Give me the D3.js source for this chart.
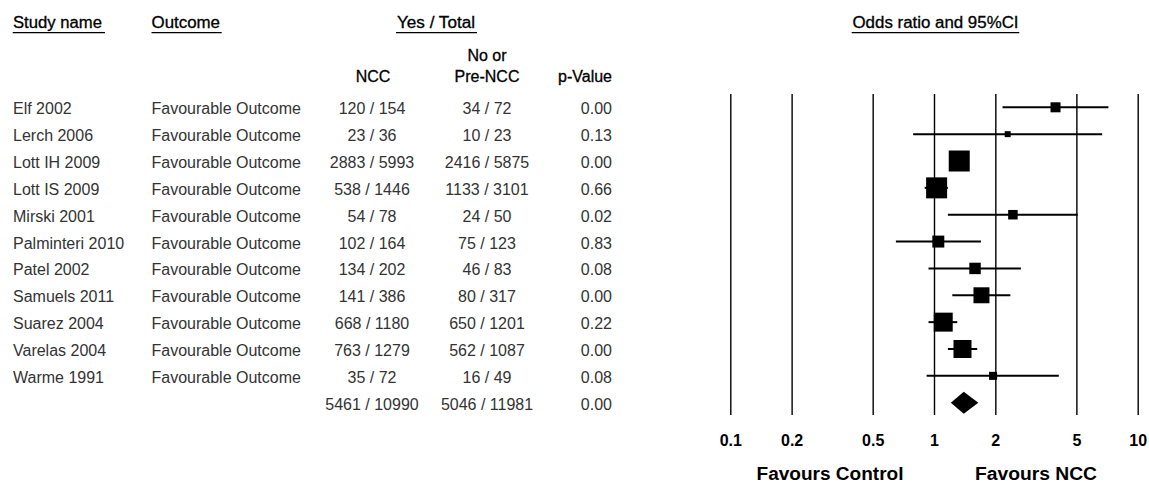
<!DOCTYPE html>
<html>
<head>
<meta charset="utf-8">
<script src="https://cdn.jsdelivr.net/npm/d3@7"></script>
<style>
  html, body { margin: 0; padding: 0; background: #fff; }
  svg { display: block; font-family: "Liberation Sans", Arial, sans-serif; }
</style>
</head>
<body>
<svg id="chart" width="1149" height="484"></svg>
<script>
// ---------- data ----------
const studies = ["Elf 2002", "Lerch 2006", "Lott IH 2009", "Lott IS 2009", "Mirski 2001",
  "Palminteri 2010", "Patel 2002", "Samuels 2011", "Suarez 2004", "Varelas 2004", "Warme 1991"];
const outcomes = ["Favourable Outcome", "Favourable Outcome", "Favourable Outcome", "Favourable Outcome",
  "Favourable Outcome", "Favourable Outcome", "Favourable Outcome", "Favourable Outcome",
  "Favourable Outcome", "Favourable Outcome", "Favourable Outcome"];
const nccYes = [120, 23, 2883, 538, 54, 102, 134, 141, 668, 763, 35];
const nccTotal = [154, 36, 5993, 1446, 78, 164, 202, 386, 1180, 1279, 72];
const ctrlYes = [34, 10, 2416, 1133, 24, 75, 46, 80, 650, 562, 16];
const ctrlTotal = [72, 23, 5875, 3101, 50, 123, 83, 317, 1201, 1087, 49];
const pValues = ["0.00", "0.13", "0.00", "0.66", "0.02", "0.83", "0.08", "0.00", "0.22", "0.00", "0.08"];
const oddsRatio = [3.95, 2.30, 1.33, 1.03, 2.44, 1.05, 1.59, 1.71, 1.11, 1.38, 1.95];
const lowerCI = [2.17, 0.79, 1.24, 0.90, 1.17, 0.65, 0.94, 1.23, 0.94, 1.17, 0.92];
const upperCI = [7.18, 6.69, 1.43, 1.17, 5.08, 1.70, 2.67, 2.37, 1.30, 1.63, 4.10];
const weights = [4.2, 1.5, 18.5, 18.5, 3.8, 6.0, 5.5, 10.7, 15.1, 13.6, 2.7];

const summaryNcc = "5461 / 10990";
const summaryCtrl = "5046 / 11981";
const summaryP = "0.00";
const summaryOR = 1.40, summaryLower = 1.21, summaryUpper = 1.65;

const tickValues = [0.1, 0.2, 0.5, 1, 2, 5, 10];
const tickLabels = ["0.1", "0.2", "0.5", "1", "2", "5", "10"];

// ---------- layout ----------
const svg = d3.select("#chart");
const nRows = studies.length + 1;
const plotTop = 94, plotBottom = 415;

const x = d3.scaleLog().domain([0.1, 10]).range([730.3, 1137.7]);
const y = d3.scaleLinear().domain([0, nRows - 1]).range([107.3, 402.7]);
const side = d3.scaleSqrt().domain([0, d3.max(weights)]).range([0, 21]);

const textOff = 7;
const rowColor = "#333";

// ---------- headers ----------
const hdr = svg.append("g").attr("font-size", 16).attr("fill", "#000")
  .attr("stroke", "#000").attr("stroke-width", 0.3);
function header(txt, xx, yy, anchor, len) {
  const t = hdr.append("text").attr("x", xx).attr("y", yy).attr("text-anchor", anchor).text(txt);
  if (len) t.attr("textLength", len).attr("lengthAdjust", "spacingAndGlyphs");
  return t;
}
header("Study name", 13, 28, "start", 89);
header("Outcome", 151.5, 28, "start", 68.5);
header("Yes / Total", 397, 28, "start", 78);
header("Odds ratio and 95%CI", 852.5, 28, "start", 166);
header("No or", 487, 61, "middle");
header("NCC", 373, 82, "middle");
header("Pre-NCC", 487, 82, "middle");
header("p-Value", 612, 82, "end");

const ul = svg.append("g").attr("stroke", "#000").attr("stroke-width", 1.2);
[[12.7, 105], [151.5, 221.7], [396, 477], [851.7, 1019.3]].forEach(([a, b]) => {
  ul.append("line").attr("x1", a).attr("x2", b).attr("y1", 32.6).attr("y2", 32.6);
});

// ---------- table rows ----------
const rows = studies.map((s, i) => ({
  name: s, outcome: outcomes[i],
  ncc: nccYes[i] + " / " + nccTotal[i],
  ctrl: ctrlYes[i] + " / " + ctrlTotal[i],
  p: pValues[i], i
}));
rows.push({ name: "", outcome: "", ncc: summaryNcc, ctrl: summaryCtrl, p: summaryP, i: studies.length });

const tbl = svg.append("g").attr("font-size", 16).attr("fill", rowColor);
const rg = tbl.selectAll("g.row").data(rows).join("g").attr("class", "row")
  .attr("transform", d => `translate(0,${y(d.i) + textOff})`);
rg.append("text").attr("x", 13).text(d => d.name);
rg.append("text").attr("x", 151.5).text(d => d.outcome);
rg.append("text").attr("x", 372).attr("text-anchor", "middle").text(d => d.ncc);
rg.append("text").attr("x", 487).attr("text-anchor", "middle").text(d => d.ctrl);
rg.append("text").attr("x", 612).attr("text-anchor", "end").text(d => d.p);

// ---------- axis / gridlines ----------
const axis = d3.axisBottom(x)
  .tickValues(tickValues)
  .tickFormat((d, i) => tickLabels[i])
  .tickSize(-(plotBottom - plotTop))
  .tickPadding(20);
const ag = svg.append("g").attr("transform", `translate(0,${plotBottom})`).call(axis);
ag.select(".domain").remove();
ag.selectAll(".tick line").attr("stroke", "#000").attr("stroke-width", 1.4);
ag.selectAll(".tick text")
  .attr("font-family", "\"Liberation Sans\", Arial, sans-serif")
  .attr("font-size", 16).attr("font-weight", "bold").attr("fill", "#000");

// ---------- CI lines and squares ----------
const data = studies.map((s, i) => ({ i, or: oddsRatio[i], lo: lowerCI[i], hi: upperCI[i], w: weights[i] }));
const pg = svg.append("g");
pg.selectAll("line.ci").data(data).join("line").attr("class", "ci")
  .attr("x1", d => x(d.lo)).attr("x2", d => x(d.hi))
  .attr("y1", d => y(d.i)).attr("y2", d => y(d.i))
  .attr("stroke", "#000").attr("stroke-width", 2);
pg.selectAll("rect.box").data(data).join("rect").attr("class", "box")
  .attr("x", d => x(d.or) - side(d.w) / 2)
  .attr("y", d => y(d.i) - side(d.w) / 2)
  .attr("width", d => side(d.w)).attr("height", d => side(d.w))
  .attr("fill", "#000");

// summary diamond
const sy = y(studies.length), dh = 11;
pg.append("path")
  .attr("d", `M${x(summaryLower)},${sy} L${x(summaryOR)},${sy - dh} L${x(summaryUpper)},${sy} L${x(summaryOR)},${sy + dh} Z`)
  .attr("fill", "#000");

// ---------- favours labels ----------
const fav = svg.append("g").attr("font-size", 18).attr("font-weight", "bold").attr("fill", "#000");
fav.append("text").attr("x", 830).attr("y", 480).attr("text-anchor", "middle")
  .attr("textLength", 147).attr("lengthAdjust", "spacingAndGlyphs").text("Favours Control");
fav.append("text").attr("x", 1036).attr("y", 480).attr("text-anchor", "middle")
  .attr("textLength", 122).attr("lengthAdjust", "spacingAndGlyphs").text("Favours NCC");
</script>
</body>
</html>
